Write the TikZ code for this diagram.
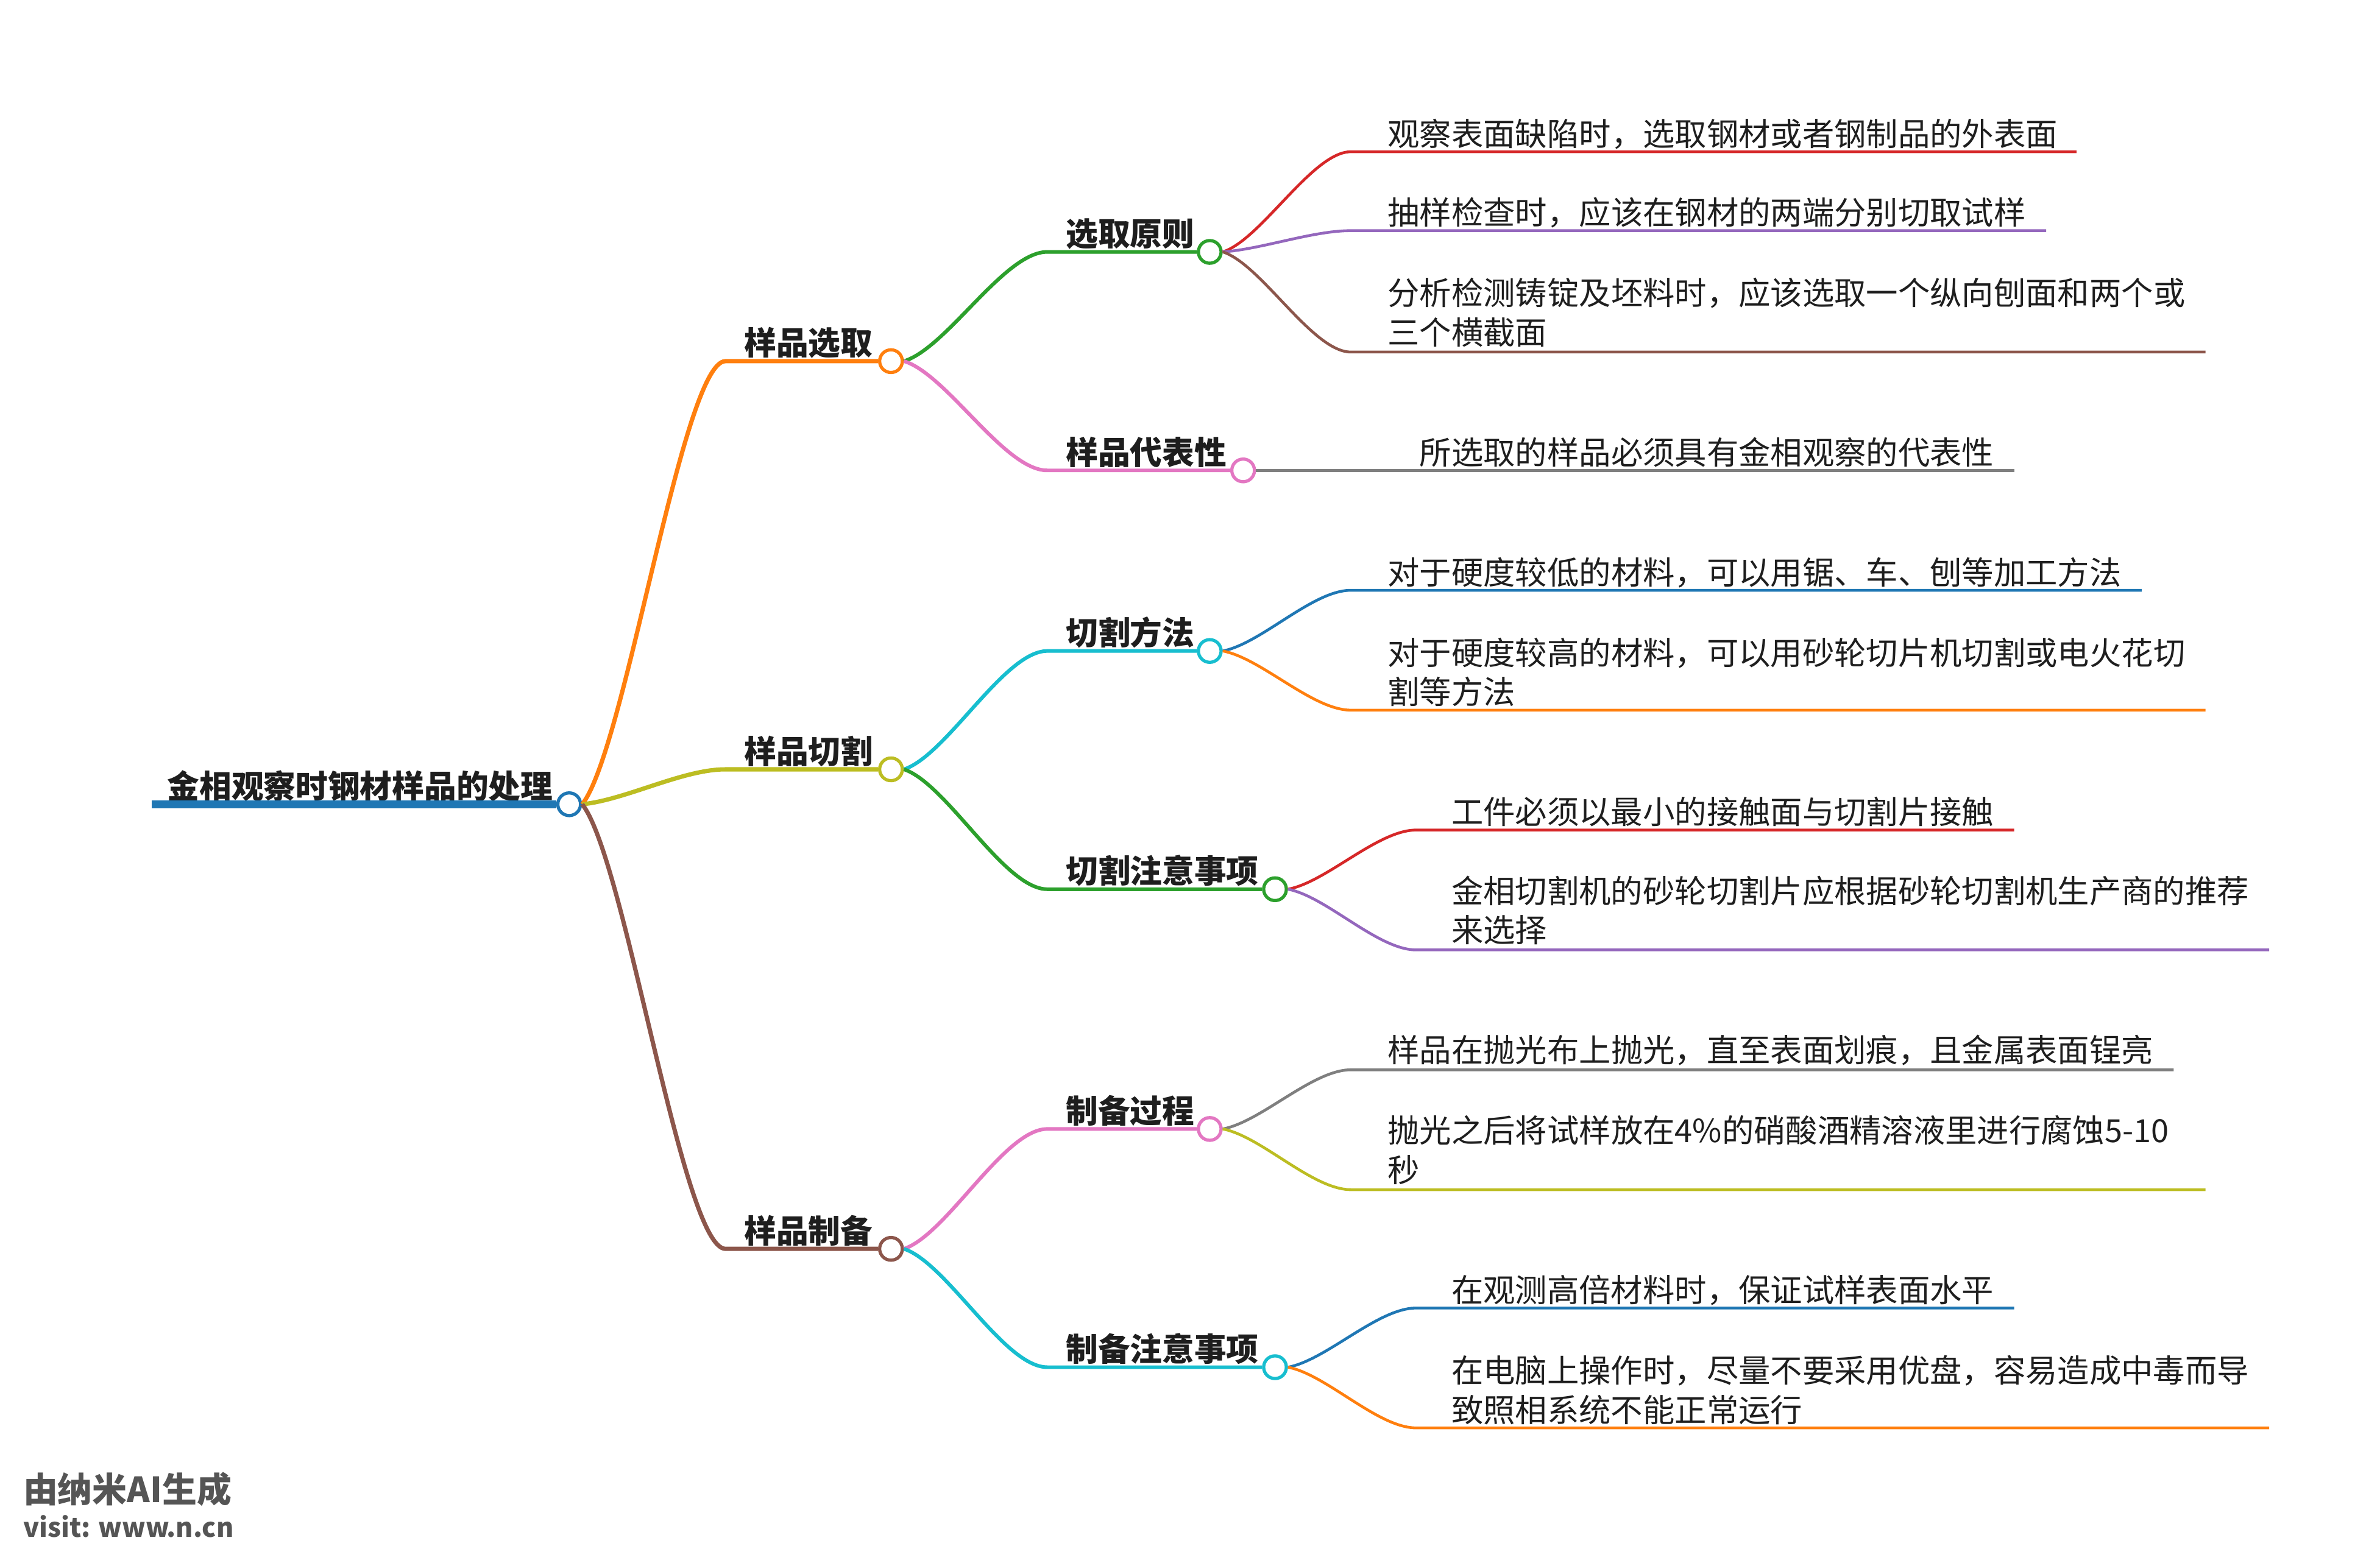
\documentclass[tikz,border=0pt]{standalone}
\usepackage{fontspec}
\setmainfont{Noto Sans CJK SC}
\usetikzlibrary{calc}
\definecolor{cblue}{HTML}{1F77B4}
\definecolor{corange}{HTML}{FF7F0E}
\definecolor{cgreen}{HTML}{2CA02C}
\definecolor{cred}{HTML}{D62728}
\definecolor{cpurple}{HTML}{9467BD}
\definecolor{cbrown}{HTML}{8C564B}
\definecolor{cpink}{HTML}{E377C2}
\definecolor{cgray}{HTML}{7F7F7F}
\definecolor{colive}{HTML}{BCBD22}
\definecolor{ccyan}{HTML}{17BECF}
\definecolor{txt}{HTML}{1E1E1E}
\definecolor{wm}{HTML}{555555}
\newcommand\leaffont{\fontsize{14.9pt}{18.4pt}\selectfont}
\newcommand\headfont{\fontsize{15pt}{18pt}\selectfont\bfseries}
\newcommand\mmcurve[4]{%
  \draw[#1] let \p1=(#2), \p2=(#3) in (\p1) .. controls ({\x1+0.3*(\x2-\x1)},{\y1+0.12*(\y2-\y1)}) and ({\x1+0.7*(\x2-\x1)},\y2) .. (\p2) -- (#4);}
\tikzset{
  leaf/.style={anchor=base west, inner sep=0pt, text=txt, font=\leaffont},
  head/.style={anchor=base west, inner sep=0pt, text=txt, font=\headfont},
  circ/.style={circle, minimum size=10.6pt, inner sep=0pt, fill=white, line width=1.5pt},
  lone/.style={line width=2pt},
  ltwo/.style={line width=1.7pt},
  lthree/.style={line width=1.3pt},
  wmark/.style={anchor=base west, inner sep=0pt, text=wm, font=\bfseries}
}
\begin{document}
\begin{tikzpicture}[x=0.02491cm,y=-0.02491cm]
\useasboundingbox[fill=white] (0,0) rectangle (1568,1028);

% root
\node[head] (rootT) at (110,526) {金相观察时钢材样品的处理};
\node[circ, draw=cblue] (root) at (375,530) {};
\coordinate (rootL) at (100,530);
\draw[cblue, line width=3.7pt] (rootL) -- (root.west);

% level 1
\node[circ, draw=corange] (L1) at (587,238) {};
\node[circ, draw=colive] (L2) at (587,507) {};
\node[circ, draw=cbrown] (L3) at (587,823) {};
\coordinate (s1) at (478,238);
\coordinate (s2) at (478,507);
\coordinate (s3) at (478,823);
\node[head] (L1T) at (490,234) {样品选取};
\node[head] (L2T) at (490,503) {样品切割};
\node[head] (L3T) at (490,819) {样品制备};
\mmcurve{lone,draw=corange}{root.east}{s1}{L1.west}
\mmcurve{lone,draw=colive}{root.east}{s2}{L2.west}
\mmcurve{lone,draw=cbrown}{root.east}{s3}{L3.west}

% level 2
\node[circ, draw=cgreen] (A1) at (797,166) {};
\node[circ, draw=cpink] (A2) at (819,310) {};
\node[circ, draw=ccyan] (B1) at (797,429) {};
\node[circ, draw=cgreen] (B2) at (840,586) {};
\node[circ, draw=cpink] (C1) at (797,744) {};
\node[circ, draw=ccyan] (C2) at (840,901) {};
\coordinate (sA1) at (690,166);
\coordinate (sA2) at (690,310);
\coordinate (sB1) at (690,429);
\coordinate (sB2) at (690,586);
\coordinate (sC1) at (690,744);
\coordinate (sC2) at (690,901);
\node[head] (A1T) at (702,162) {选取原则};
\node[head] (A2T) at (702,306) {样品代表性};
\node[head] (B1T) at (702,425) {切割方法};
\node[head] (B2T) at (702,582) {切割注意事项};
\node[head] (C1T) at (702,740) {制备过程};
\node[head] (C2T) at (702,897) {制备注意事项};
\mmcurve{ltwo,draw=cgreen}{L1.east}{sA1}{A1.west}
\mmcurve{ltwo,draw=cpink}{L1.east}{sA2}{A2.west}
\mmcurve{ltwo,draw=ccyan}{L2.east}{sB1}{B1.west}
\mmcurve{ltwo,draw=cgreen}{L2.east}{sB2}{B2.west}
\mmcurve{ltwo,draw=cpink}{L3.east}{sC1}{C1.west}
\mmcurve{ltwo,draw=ccyan}{L3.east}{sC2}{C2.west}

% level 3 under A1
\coordinate (a1s) at (890,100); \coordinate (a1e) at (1368,100);
\coordinate (a2s) at (890,152); \coordinate (a2e) at (1348,152);
\coordinate (a3s) at (890,232); \coordinate (a3e) at (1453,232);
\node[leaf] (a1) at (914,96) {观察表面缺陷时，选取钢材或者钢制品的外表面};
\node[leaf] (a2) at (914,148) {抽样检查时，应该在钢材的两端分别切取试样};
\node[leaf] (a3) at (914,201) {\parbox[t]{16cm}{\leaffont 分析检测铸锭及坯料时，应该选取一个纵向刨面和两个或\\三个横截面}};
\mmcurve{lthree,draw=cred}{A1.east}{a1s}{a1e}
\mmcurve{lthree,draw=cpurple}{A1.east}{a2s}{a2e}
\mmcurve{lthree,draw=cbrown}{A1.east}{a3s}{a3e}

% under A2
\coordinate (r1e) at (1327,310);
\node[leaf] (r1) at (935,306) {所选取的样品必须具有金相观察的代表性};
\draw[lthree,draw=cgray] (A2.east) -- (r1e);

% under B1
\coordinate (b1s) at (890,389); \coordinate (b1e) at (1411,389);
\coordinate (b2s) at (890,468); \coordinate (b2e) at (1453,468);
\node[leaf] (b1) at (914,385) {对于硬度较低的材料，可以用锯、车、刨等加工方法};
\node[leaf] (b2) at (914,438) {\parbox[t]{16cm}{\leaffont 对于硬度较高的材料，可以用砂轮切片机切割或电火花切\\割等方法}};
\mmcurve{lthree,draw=cblue}{B1.east}{b1s}{b1e}
\mmcurve{lthree,draw=corange}{B1.east}{b2s}{b2e}

% under B2
\coordinate (d1s) at (933,547); \coordinate (d1e) at (1327,547);
\coordinate (d2s) at (933,626); \coordinate (d2e) at (1495,626);
\node[leaf] (d1) at (956,543) {工件必须以最小的接触面与切割片接触};
\node[leaf] (d2) at (956,595) {\parbox[t]{16cm}{\leaffont 金相切割机的砂轮切割片应根据砂轮切割机生产商的推荐\\来选择}};
\mmcurve{lthree,draw=cred}{B2.east}{d1s}{d1e}
\mmcurve{lthree,draw=cpurple}{B2.east}{d2s}{d2e}

% under C1
\coordinate (e1s) at (890,705); \coordinate (e1e) at (1432,705);
\coordinate (e2s) at (890,784); \coordinate (e2e) at (1453,784);
\node[leaf] (e1) at (914,700) {样品在抛光布上抛光，直至表面划痕，且金属表面锃亮};
\node[leaf] (e2) at (914,753) {\parbox[t]{16cm}{\leaffont 抛光之后将试样放在4\%的硝酸酒精溶液里进行腐蚀5-10\\秒}};
\mmcurve{lthree,draw=cgray}{C1.east}{e1s}{e1e}
\mmcurve{lthree,draw=colive}{C1.east}{e2s}{e2e}

% under C2
\coordinate (f1s) at (933,862); \coordinate (f1e) at (1327,862);
\coordinate (f2s) at (933,941); \coordinate (f2e) at (1495,941);
\node[leaf] (f1) at (956,858) {在观测高倍材料时，保证试样表面水平};
\node[leaf] (f2) at (956,911) {\parbox[t]{16cm}{\leaffont 在电脑上操作时，尽量不要采用优盘，容易造成中毒而导\\致照相系统不能正常运行}};
\mmcurve{lthree,draw=cblue}{C2.east}{f1s}{f1e}
\mmcurve{lthree,draw=corange}{C2.east}{f2s}{f2e}

% watermark
\node[wmark, font=\fontsize{16.2pt}{19pt}\selectfont\bfseries] (wm1) at (15,990) {由纳米AI生成};
\node[wmark, font=\fontsize{12.3pt}{15pt}\selectfont\bfseries] (wm2) at (15,1013) {visit: www.n.cn};
\end{tikzpicture}
\end{document}
